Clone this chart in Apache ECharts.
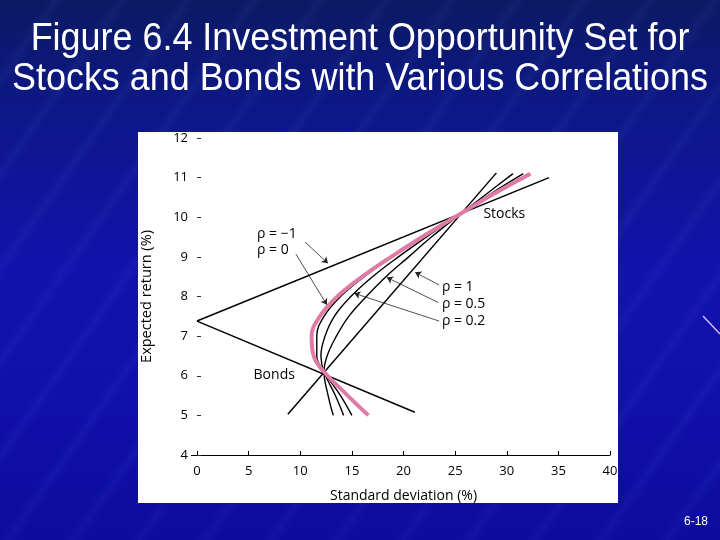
<!DOCTYPE html>
<html><head><meta charset="utf-8">
<script src="https://cdn.jsdelivr.net/npm/echarts@6/dist/echarts.min.js"></script>
<style>
html,body{margin:0;padding:0;width:720px;height:540px;overflow:hidden;}
#bg{position:absolute;left:0;top:0;width:720px;height:540px;
background:
 repeating-linear-gradient(125deg, rgba(255,255,255,0.0) 0px, rgba(255,255,255,0.0) 38px, rgba(120,140,255,0.06) 46px, rgba(255,255,255,0.0) 54px),
 linear-gradient(180deg,#0b1a63 0%,#0d178a 22%,#1212ad 50%,#1010aa 75%,#0c0c9e 100%);}
#chart{position:absolute;left:0;top:0;width:720px;height:540px;}
</style></head>
<body><div id="bg"></div><div id="chart"></div>
<script>
// ---- data ----
const xTickValues = [0, 5, 10, 15, 20, 25, 30, 35, 40];   // standard deviation (%)
const yTickValues = [4, 5, 6, 7, 8, 9, 10, 11, 12];       // expected return (%)

// expected-return levels at which the curves were read
const retLevels = [5.0, 5.5, 6.1, 6.5, 7.0, 7.5, 8.0, 8.5, 9.0, 9.5, 10.1, 10.6, 11.1];
const sdRho0    = [15.0, 13.9, 12.3, 11.6, 11.6, 12.3, 13.9, 16.2, 18.9, 21.8, 25.6, 28.8, 32.1];
const sdRho02   = [14.2, 13.4, 12.3, 12.0, 12.4, 13.3, 14.9, 17.0, 19.5, 22.2, 25.6, 28.5, 31.6];
const sdRho05   = [13.2, 12.7, 12.3, 12.6, 13.5, 14.7, 16.4, 18.3, 20.5, 22.7, 25.6, 28.1, 30.6];
const sdPink    = [16.6, 14.6, 12.3, 11.3, 11.1, 11.9, 13.6, 16.0, 18.8, 21.8, 25.6, 28.8, 32.3];

const rho1Sd  = [8.8, 29.0];
const rho1Ret = [5.03, 11.12];
const rhoNeg1UpperSd  = [0, 34.1];
const rhoNeg1UpperRet = [7.38, 11.0];
const rhoNeg1LowerSd  = [0, 21.1];
const rhoNeg1LowerRet = [7.38, 5.08];

const labelText = ['ρ = −1', 'ρ = 0', 'Stocks', 'Bonds', 'ρ = 1', 'ρ = 0.5', 'ρ = 0.2'];
const labelSd   = [5.81, 5.81, 27.74, 5.48, 23.72, 23.72, 23.72];
const labelRet  = [9.58, 9.18, 10.08, 6.01, 8.24, 7.82, 7.38];

const arrowFromSd  = [10.48, 9.58, 23.45, 23.35, 23.45];
const arrowFromRet = [9.37, 9.07, 8.29, 7.85, 7.38];
const arrowToSd    = [12.68, 12.58, 21.13, 18.39, 15.23];
const arrowToRet   = [8.84, 7.79, 8.61, 8.48, 8.08];

const titleLines = ['Figure 6.4 Investment Opportunity Set for', 'Stocks and Bonds with Various Correlations'];

// ---- build ----
const pairs = (xs, ys) => xs.map((x, i) => [x, ys[i]]);
const chartFont = 'Open Sans';
const black = '#000000';

function curve(name, xs, ys, color, width, smooth, z) {
  return {name, type: 'line', data: pairs(xs, ys), smooth: smooth, symbol: 'none',
    lineStyle: {color, width}, z: z || 3, silent: true, animation: false};
}

const titleGraphics = titleLines.map((t, i) => ({
  type: 'text', x: 360, y: 40 + i * 40, scaleX: 0.945, z: 20,
  style: {text: t, fill: '#ffffff', fontSize: 38, fontFamily: 'Liberation Sans',
    textAlign: 'center', textVerticalAlign: 'middle'}
}));

const chart = echarts.init(document.getElementById('chart'), null, {renderer: 'canvas'});
chart.setOption({
  animation: false,
  backgroundColor: 'transparent',
  graphic: [
    {type: 'rect', shape: {x: 138, y: 132, width: 480, height: 371}, style: {fill: '#ffffff'}, z: -10},
    {type: 'line', shape: {x1: 191, y1: 455.5, x2: 197, y2: 455.5}, style: {stroke: '#000', lineWidth: 1}, z: 10},
    {type: 'line', shape: {x1: 703, y1: 316, x2: 720, y2: 334}, style: {stroke: '#d9b8ff', lineWidth: 1.5}, z: -10},
    {type: 'text', right: 12, top: 516, style: {text: '6-18', fill: '#ffffff', fontSize: 12, fontFamily: 'Liberation Sans'}}
  ].concat(titleGraphics),
  grid: {left: 197, right: 110, top: 138, bottom: 85, containLabel: false},
  xAxis: {
    type: 'value', min: xTickValues[0], max: xTickValues[xTickValues.length - 1], interval: 5,
    name: 'Standard deviation (%)', nameLocation: 'middle', nameGap: 34,
    nameTextStyle: {color: black, fontSize: 14, fontFamily: chartFont},
    axisLine: {show: true, lineStyle: {color: black, width: 1}},
    axisTick: {show: true, inside: true, length: 4, lineStyle: {color: black}},
    axisLabel: {color: black, fontSize: 13, margin: 10, fontFamily: chartFont},
    splitLine: {show: false}
  },
  yAxis: {
    type: 'value', min: yTickValues[0], max: yTickValues[yTickValues.length - 1], interval: 1,
    name: 'Expected return (%)', nameLocation: 'middle', nameGap: 43, nameRotate: 90,
    nameTextStyle: {color: black, fontSize: 14.5, fontFamily: chartFont},
    axisLine: {show: false},
    axisTick: {show: true, inside: true, length: 4, lineStyle: {color: '#333'}},
    axisLabel: {color: black, fontSize: 13, margin: 9, fontFamily: chartFont},
    splitLine: {show: false}
  },
  series: [
    curve('rho=-1 upper', rhoNeg1UpperSd, rhoNeg1UpperRet, black, 1.5, false),
    curve('rho=-1 lower', rhoNeg1LowerSd, rhoNeg1LowerRet, black, 1.5, false),
    curve('rho=1', rho1Sd, rho1Ret, black, 1.5, false),
    curve('rho=0.5', sdRho05, retLevels, black, 1.4, 0.4),
    curve('rho=0.2', sdRho02, retLevels, black, 1.4, 0.4),
    curve('rho=0', sdRho0, retLevels, black, 1.4, 0.4),
    curve('rho=0 highlight', sdPink, retLevels, '#e07ba8', 4, 0.4, 5),
    {
      type: 'lines', coordinateSystem: 'cartesian2d', silent: true, z: 6,
      symbol: ['none', 'arrow'], symbolSize: [0, 6],
      lineStyle: {color: '#222', width: 0.8, opacity: 1},
      data: arrowFromSd.map((x, i) => ({coords: [[x, arrowFromRet[i]], [arrowToSd[i], arrowToRet[i]]]}))
    },
    {
      type: 'scatter', symbolSize: 0, silent: true, z: 7,
      itemStyle: {opacity: 1},
      data: labelSd.map((x, i) => ({value: [x, labelRet[i]], name: labelText[i]})),
      label: {show: true, position: [0, 0], align: 'left', verticalAlign: 'middle', opacity: 1,
        formatter: p => p.name, color: '#000', fontSize: 14, fontFamily: chartFont}
    }
  ]
});
</script>
</body></html>
